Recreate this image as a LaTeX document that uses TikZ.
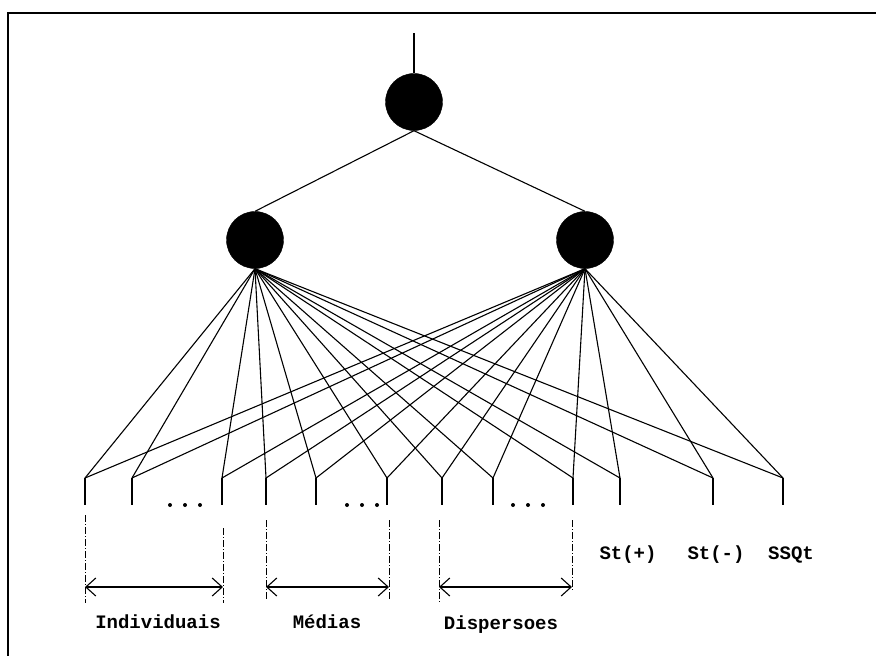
\documentclass[tikz,border=0pt]{standalone}
\usepackage{fontspec}
\setmonofont{Liberation Mono}
\usetikzlibrary{arrows.meta,calc}
\begin{document}
\begin{tikzpicture}[x=1pt,y=-1pt,
  wire/.style={line width=1.1pt},
  neuron/.style={circle,fill=black,draw=black,minimum size=57pt,inner sep=0pt},
  dashdot/.style={line width=0.7pt,dash pattern=on 7pt off 2pt on 1pt off 2pt},
  span/.style={line width=1.1pt,{Straight Barb[length=10pt,width=18pt]}-{Straight Barb[length=10pt,width=18pt]}},
  lbl/.style={font=\ttfamily\bfseries\fontsize{19}{19}\selectfont,inner sep=0pt},
  dotmark/.style={circle,fill=black,inner sep=0pt,minimum size=4pt}]
\useasboundingbox (0,0) rectangle (876,656);

% frame
\draw[line width=1.8pt] (8,656) -- (8,13) -- (876,13);

% network nodes
\node[neuron] (T) at (414,102) {};
\node[neuron] (L) at (255,240) {};
\node[neuron] (R) at (585,240) {};
\coordinate (out) at (414,33);
\draw[wire] (out) -- (T.north);
\draw[wire] (T.south) -- (L.north);
\draw[wire] (T.south) -- (R.north);

% input stubs, fully connected to both hidden units
\foreach \x [count=\i] in {85,132,222,266,316,387,442,493,573,620,713,783} {
  \coordinate (i\i) at (\x,478);
  \coordinate (b\i) at (\x,505);
  \draw[wire] (i\i) -- (b\i);
  \draw[wire] (L.south) -- (i\i);
  \draw[wire] (R.south) -- (i\i);
}

% ellipses between stubs
\foreach \x in {170,185,200, 347,362,377, 513,528,543}
  \node[dotmark] at (\x,505) {};

% group brackets
\coordinate (ia) at (85,515);  \coordinate (ia2) at (85,603);
\coordinate (ib) at (223,528); \coordinate (ib2) at (223,603);
\coordinate (ma) at (266,520); \coordinate (ma2) at (266,600);
\coordinate (mb) at (389,520); \coordinate (mb2) at (389,600);
\coordinate (da) at (439,520); \coordinate (da2) at (439,603);
\coordinate (db) at (572,520); \coordinate (db2) at (572,590);
\foreach \a/\b in {ia/ia2,ib/ib2,ma/ma2,mb/mb2,da/da2,db/db2}
  \draw[dashdot] (\a) -- (\b);

\coordinate (iL) at (85,587);  \coordinate (iR) at (223,587);
\coordinate (mL) at (266,587); \coordinate (mR) at (389,587);
\coordinate (dL) at (439,587); \coordinate (dR) at (572,587);
\draw[span] (iL) -- (iR);
\draw[span] (mL) -- (mR);
\draw[span] (dL) -- (dR);

% labels
\node[lbl] (tInd) at (158,622) {Individuais};
\node[lbl] (tMed) at (327,622) {Médias};
\node[lbl] (tDis) at (501,625) {Dispersoes};
\node[lbl] (tSp) at (628,555) {St(+)};
\node[lbl] (tSm) at (716,555) {St(-)};
\node[lbl] (tSS) at (791,555) {SSQt};
\end{tikzpicture}
\end{document}
